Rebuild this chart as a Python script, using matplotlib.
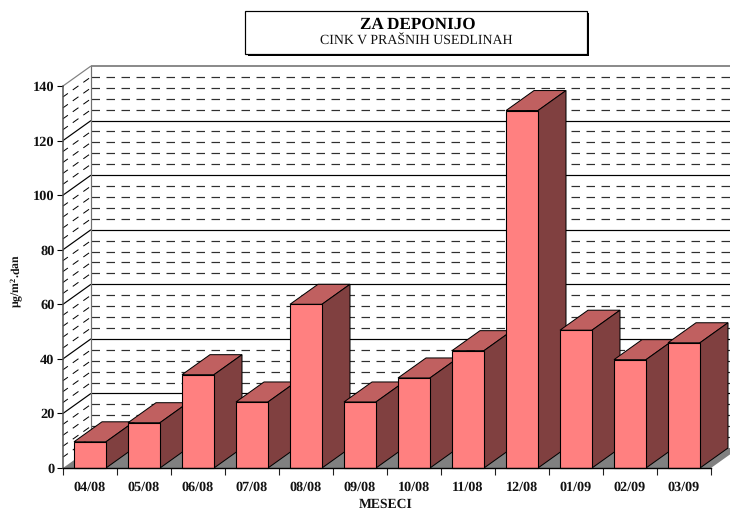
import matplotlib
matplotlib.use("Agg")
import matplotlib.pyplot as plt
from matplotlib.patches import Polygon, Rectangle

months = ["04/08", "05/08", "06/08", "07/08", "08/08", "09/08",
          "10/08", "11/08", "12/08", "01/09", "02/09", "03/09"]
values = [9.6, 16.6, 34.2, 24.2, 60, 24.2, 33, 43, 131, 50.5, 39.7, 45.9]
y_major = [0, 20, 40, 60, 80, 100, 120, 140]
y_grid = list(range(0, 141, 4))
title_main = "ZA DEPONIJO"
title_sub = "CINK V PRAŠNIH USEDLINAH"
x_title = "MESECI"
y_title = "µg/m$^{2}$.dan"

plt.rcParams["font.family"] = ["Liberation Serif", "DejaVu Serif"]
plt.rcParams["lines.scale_dashes"] = False
plt.rcParams["mathtext.fontset"] = "custom"
plt.rcParams["mathtext.rm"] = "Liberation Serif:bold"
plt.rcParams["mathtext.default"] = "rm"
plt.rcParams["text.hinting"] = "no_hinting"

W, H = 730, 512
PX = 0.72
fig = plt.figure(figsize=(W / 100, H / 100), dpi=100, facecolor="white")
ax = fig.add_axes([63 / W, (H - 468) / H, 648 / W, 382 / H])
ax.patch.set_visible(False)
n = len(months)
ax.set_xlim(0, n)
ax.set_ylim(0, 140)

DX = 28 / 54
DY = 20 / (382 / 140)
BAR_W = 32 / 54
DASH = (0, (8.5 * PX, 6.5 * PX))
RIGHT = n + DX
GRAY = "#808080"
DARK = "#303030"


def line(xs, ys, **kw):
    ax.plot(xs, ys, clip_on=False, solid_capstyle="butt", dash_capstyle="butt", **kw)


for v in y_grid:
    if v == 0 or v == 140:
        continue
    if v in y_major:
        line([DX, RIGHT], [v + DY, v + DY], color="black", lw=1.2 * PX, zorder=1.5)
        line([0, DX], [v, v + DY], color="black", lw=1.2 * PX, zorder=1.5)
    else:
        line([DX, RIGHT], [v + DY, v + DY], color=DARK, lw=1.2 * PX, ls=DASH, zorder=1.5)
        line([0, DX], [v, v + DY], color="black", lw=1.0 * PX, ls=(1 * PX, (7 * PX, 6 * PX)), zorder=1.5)
line([DX, DX], [DY, 140 + DY], color="#707070", lw=1.2 * PX, zorder=1.6)
line([DX, RIGHT], [140 + DY, 140 + DY], color="#707070", lw=1.6 * PX, zorder=1.6)
line([0, DX], [140, 140 + DY], color=GRAY, lw=1.2 * PX, zorder=1.6)

ax.add_patch(Polygon([(0, 0), (n, 0), (RIGHT, DY), (DX, DY)], closed=True,
                     facecolor=GRAY, edgecolor="none", clip_on=False, zorder=2))

for i, v in enumerate(values):
    z = 3 + i
    left = i + 0.5 - BAR_W / 2
    right = i + 0.5 + BAR_W / 2
    ax.add_patch(Polygon([(left, v), (right, v), (right + DX, v + DY), (left + DX, v + DY)],
                         closed=True, facecolor="#C06060", edgecolor="black",
                         lw=1.0 * PX, clip_on=False, zorder=z))
    ax.add_patch(Polygon([(right, 0), (right + DX, DY), (right + DX, v + DY), (right, v)],
                         closed=True, facecolor="#804040", edgecolor="black",
                         lw=1.0 * PX, clip_on=False, zorder=z))
    ax.bar(i + 0.5, v, width=BAR_W, color="#FF8080", edgecolor="black",
           linewidth=1.1 * PX, clip_on=False, zorder=z + 0.5)

for s in ("top", "right"):
    ax.spines[s].set_visible(False)
ax.spines["left"].set_color("#505050")
ax.spines["left"].set_linewidth(1.5 * PX)
ax.spines["bottom"].set_color("black")
ax.spines["bottom"].set_linewidth(1.4 * PX)
ax.spines["bottom"].set_zorder(30)

ax.set_yticks(y_major)
ax.set_yticklabels([str(v) for v in y_major], fontsize=10.4, fontweight="bold", color="#111111")
ax.tick_params(axis="y", length=6 * PX, width=1.1 * PX, pad=2.5 * PX, color="black")

ax.set_xticks(list(range(n + 1)))
ax.set_xticklabels([""] * (n + 1))
ax.tick_params(axis="x", which="major", length=6.5 * PX, width=1.1 * PX, color="#202020")
ax.set_xticks([i + 0.5 for i in range(n)], minor=True)
ax.set_xticklabels(months, minor=True, fontsize=10.2, fontweight="bold", color="#111111")
ax.tick_params(axis="x", which="minor", length=0, pad=9.5)

ax.set_xlabel(x_title, fontsize=9.8, fontweight="bold", color="#111111", va="center")
ax.xaxis.set_label_coords((386 - 63) / 648, (468 - 504) / 382)
ax.set_ylabel(y_title, fontsize=8.5, fontweight="bold", color="#111111", va="center")
ax.yaxis.set_label_coords((17 - 63) / 648, (468 - 281) / 382)


def frect(x0, y0, x1, y1, **kw):
    fig.add_artist(Rectangle((x0 / W, 1 - y1 / H), (x1 - x0) / W, (y1 - y0) / H,
                             transform=fig.transFigure, **kw))


frect(247.5, 13, 588.5, 55.5, facecolor="black", edgecolor="none")
frect(245.5, 11, 586.5, 53.5, facecolor="white", edgecolor="black", linewidth=1.2 * PX)
fig.text(418 / W, 1 - 24.5 / H, title_main, ha="center", va="center",
         fontsize=12.3, fontweight="bold", color="black")
fig.text(416 / W, 1 - 40 / H, title_sub, ha="center", va="center",
         fontsize=10, color="#111111")

fig.savefig("out.png", dpi=100, facecolor="white")
